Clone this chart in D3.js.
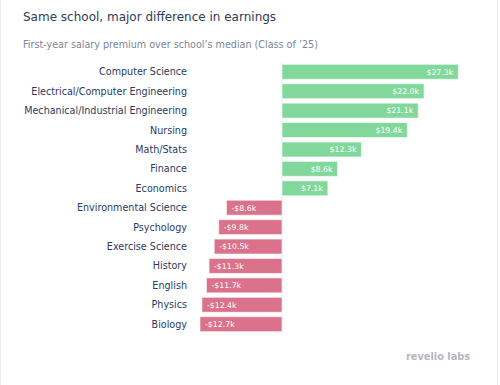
<!DOCTYPE html>
<html>
<head>
<meta charset="utf-8">
<script src="https://cdn.jsdelivr.net/npm/d3@7"></script>
<style>
  body { margin: 0; background: #fff; }
  svg { display: block; font-family: "DejaVu Sans", Verdana, sans-serif; }
</style>
</head>
<body>
<div id="chart"></div>
<script>
// majors, top to bottom
var majors = ["Computer Science", "Electrical/Computer Engineering", "Mechanical/Industrial Engineering",
  "Nursing", "Math/Stats", "Finance", "Economics", "Environmental Science", "Psychology",
  "Exercise Science", "History", "English", "Physics", "Biology"]
// premium over median, $k
var premiums = [27.3, 22.0, 21.1, 19.4, 12.3, 8.6, 7.1, -8.6, -9.8, -10.5, -11.3, -11.7, -12.4, -12.7]

var width = 500, height = 385
var green = "#82d89a", red = "#d9728a"

var data = majors.map(function(m, i){ return {major: m, value: premiums[i]} })

var x = d3.scaleLinear()
    .domain([d3.min(premiums), d3.max(premiums)])
    .range([200, 458.3])

var y = d3.scaleBand()
    .domain(majors)
    .range([62, 334])
    .paddingInner(0.23)
    .paddingOuter(0.12)

var svg = d3.select('#chart')
    .append('svg')
    .attr('width', width)
    .attr('height', height)

// card frame
svg.append('rect')
    .attr('x', 0.5).attr('y', -5)
    .attr('width', 497).attr('height', height + 10)
    .attr('rx', 4)
    .attr('fill', '#fff')
    .attr('stroke', '#ececef')

svg.append('text')
    .attr('x', 23).attr('y', 21)
    .attr('font-size', 12)
    .attr('fill', '#2f3a58')
    .text('Same school, major difference in earnings')

svg.append('text')
    .attr('x', 23).attr('y', 47.5)
    .attr('font-size', 9.6)
    .attr('fill', '#7d8599')
    .text('First-year salary premium over school\u2019s median (Class of \u201925)')

// zero line
svg.append('line')
    .attr('x1', x(0)).attr('x2', x(0))
    .attr('y1', 62).attr('y2', 334)
    .attr('stroke', '#e8eaef')

svg.append('g')
    .selectAll('rect')
    .data(data)
    .enter()
    .append('rect')
    .attr('x', function(d){ return x(Math.min(0, d.value)) })
    .attr('y', function(d){ return y(d.major) })
    .attr('width', function(d){ return Math.abs(x(d.value) - x(0)) })
    .attr('height', y.bandwidth())
    .attr('fill', function(d){ return d.value >= 0 ? green : red })
    .attr('stroke', 'rgba(255,255,255,0.6)')
    .attr('stroke-width', 1)

// major names
svg.append('g')
    .selectAll('text')
    .data(data)
    .enter()
    .append('text')
    .attr('x', 187)
    .attr('y', function(d){ return y(d.major) + y.bandwidth() / 2 })
    .attr('dy', '0.36em')
    .attr('text-anchor', 'end')
    .attr('font-size', 9.6)
    .attr('fill', '#2c3a5e')
    .text(function(d){ return d.major })

// value labels inside bars
svg.append('g')
    .selectAll('text')
    .data(data)
    .enter()
    .append('text')
    .attr('x', function(d){ return d.value >= 0 ? x(d.value) - 5 : x(d.value) + 5 })
    .attr('y', function(d){ return y(d.major) + y.bandwidth() / 2 })
    .attr('dy', '0.36em')
    .attr('text-anchor', function(d){ return d.value >= 0 ? 'end' : 'start' })
    .attr('font-size', 7.8)
    .attr('fill', '#fff')
    .text(function(d){ return (d.value < 0 ? '-$' : '$') + Math.abs(d.value).toFixed(1) + 'k' })

// logo
svg.append('text')
    .attr('x', 406).attr('y', 360)
    .attr('font-size', 9.8)
    .attr('font-weight', 'bold')
    .attr('fill', '#b4b7bf')
    .text('revelio labs')
</script>
</body>
</html>
